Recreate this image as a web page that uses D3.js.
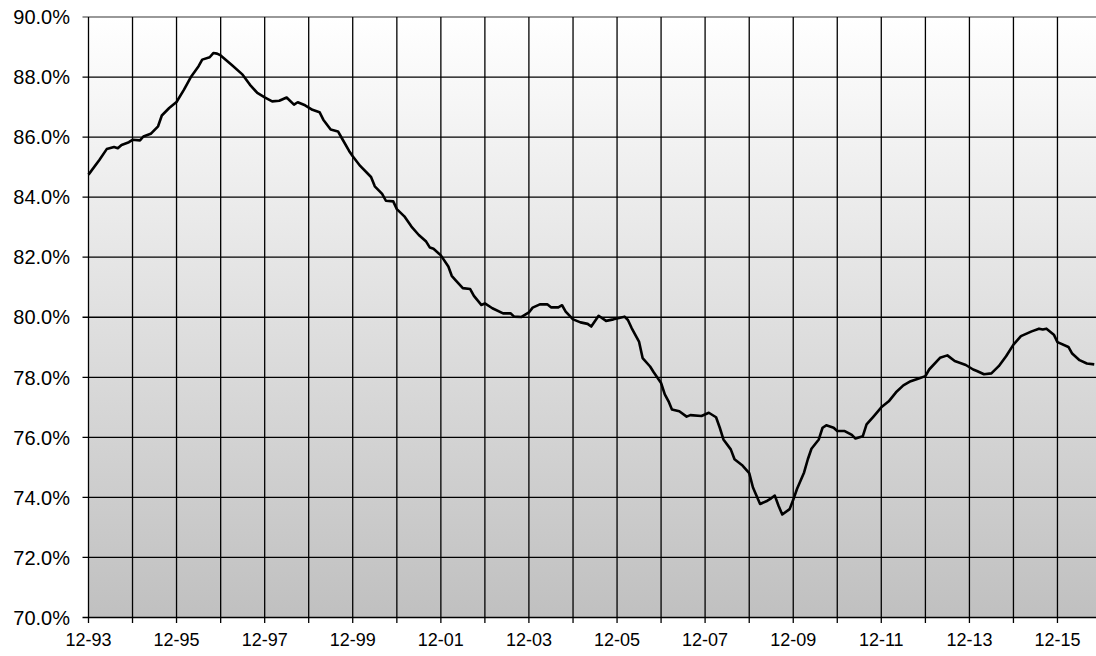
<!DOCTYPE html>
<html>
<head>
<meta charset="utf-8">
<script src="https://cdnjs.cloudflare.com/ajax/libs/d3/7.8.5/d3.min.js"></script>
<style>
	body { margin: 0; background: #fff; }
	text { font-family: Arial, "Liberation Sans", sans-serif; fill: #000; }
</style>
</head>
<body>
<div id="ratio-chart"></div>
<script>
var months = ["1993-12","1994-03","1994-05","1994-07","1994-08","1994-09","1994-11","1994-12",
	"1995-02","1995-03","1995-05","1995-07","1995-08","1995-10","1995-12",
	"1996-02","1996-04","1996-06","1996-07","1996-09","1996-10","1996-11","1996-12",
	"1997-03","1997-06","1997-08","1997-10","1997-12",
	"1998-02","1998-04","1998-06","1998-08","1998-09","1998-11",
	"1999-01","1999-03","1999-04","1999-06","1999-08","1999-09","1999-11","1999-12",
	"2000-02","2000-05","2000-06","2000-08","2000-09","2000-11","2000-12",
	"2001-02","2001-04","2001-06","2001-08","2001-09","2001-10","2001-12",
	"2002-02","2002-03","2002-04","2002-06","2002-08","2002-09","2002-11","2002-12",
	"2003-02","2003-05","2003-07","2003-08","2003-10","2003-12",
	"2004-01","2004-03","2004-05","2004-06","2004-08","2004-09","2004-10","2004-12",
	"2005-02","2005-04","2005-05","2005-07","2005-09","2005-11",
	"2006-02","2006-03","2006-04","2006-06","2006-07","2006-09","2006-10","2006-12",
	"2007-01","2007-02","2007-03","2007-05","2007-07","2007-08","2007-11",
	"2008-01","2008-03","2008-04","2008-05","2008-07","2008-08","2008-10","2008-12",
	"2009-01","2009-03","2009-05","2009-06","2009-07","2009-08","2009-09","2009-11","2009-12",
	"2010-01","2010-03","2010-04","2010-05","2010-07","2010-08","2010-09","2010-11","2010-12",
	"2011-02","2011-04","2011-05","2011-07","2011-08","2011-10","2011-12",
	"2012-02","2012-04","2012-06","2012-08","2012-10","2012-12",
	"2013-01","2013-04","2013-06","2013-08","2013-11",
	"2014-01","2014-02","2014-04","2014-06","2014-08","2014-10","2014-12",
	"2015-02","2015-05","2015-07","2015-08","2015-09","2015-11","2015-12",
	"2016-03","2016-04","2016-06","2016-08","2016-10"];

var ratio = [84.75,85.24,85.60,85.67,85.63,85.74,85.83,85.91,
	85.89,86.02,86.11,86.36,86.72,86.97,87.17,
	87.58,88.02,88.36,88.58,88.66,88.80,88.78,88.72,
	88.41,88.08,87.74,87.47,87.32,
	87.19,87.21,87.32,87.08,87.16,87.06,
	86.91,86.83,86.58,86.25,86.19,85.97,85.54,85.36,
	85.04,84.67,84.36,84.11,83.88,83.86,83.60,
	83.36,83.02,82.74,82.52,82.32,82.28,82.06,
	81.69,81.38,81.24,80.97,80.94,80.71,80.41,80.46,
	80.30,80.13,80.13,80.02,80.01,80.16,
	80.32,80.43,80.43,80.33,80.33,80.40,80.19,79.93,
	79.83,79.78,79.69,80.05,79.88,79.93,
	80.02,79.91,79.64,79.19,78.64,78.36,78.17,77.81,
	77.43,77.20,76.93,76.87,76.69,76.74,76.71,
	76.82,76.67,76.32,75.93,75.60,75.27,75.08,74.81,
	74.33,73.78,73.89,73.97,74.06,73.72,73.43,73.61,73.92,
	74.28,74.83,75.27,75.62,75.93,76.32,76.40,76.32,76.21,
	76.21,76.08,75.96,76.04,76.43,76.71,77.00,
	77.20,77.50,77.73,77.87,77.95,78.04,
	78.26,78.65,78.73,78.54,78.41,
	78.26,78.21,78.10,78.13,78.37,78.70,79.09,
	79.37,79.53,79.62,79.59,79.62,79.42,79.17,
	79.01,78.79,78.57,78.46,78.43];

var yTicks = [70, 72, 74, 76, 78, 80, 82, 84, 86, 88, 90];
var gridYears = d3.range(1993, 2016);   // a vertical line every December
var labelYears = d3.range(1993, 2016, 2);

var w = 1096, h = 656;
var padLeft = 88.5, padTop = 17, padBottom = 617.5;

var parse = d3.timeParse("%Y-%m");
var dataset = months.map(function(m, i) { return {date: parse(m), value: ratio[i]}; });

var x = d3.scaleTime()
	.domain([new Date(1993, 11, 1), new Date(2016, 10, 1)])
	.range([padLeft, padLeft + 275 * 44.05 / 12]);

var y = d3.scaleLinear()
	.domain([70, 90])
	.range([padBottom, padTop]);

var svg = d3.select("#ratio-chart").append("svg")
	.attr("width", w)
	.attr("height", h);

var grad = svg.append("defs").append("linearGradient")
	.attr("id", "bg")
	.attr("x1", 0).attr("y1", 0).attr("x2", 0).attr("y2", 1);
grad.append("stop").attr("offset", "0%").attr("stop-color", "#ffffff");
grad.append("stop").attr("offset", "100%").attr("stop-color", "#c0c0c0");

svg.append("rect")
	.attr("x", padLeft)
	.attr("y", padTop)
	.attr("width", w - padLeft)
	.attr("height", padBottom - padTop)
	.style("fill", "url(#bg)");

// horizontal grid
svg.append("g").selectAll("line")
	.data(yTicks)
	.enter()
	.append("line")
	.attr("x1", padLeft - 6)
	.attr("x2", w)
	.attr("y1", function(d) { return y(d); })
	.attr("y2", function(d) { return y(d); })
	.attr("stroke", function(d) { return d == 90 ? "#777" : "#000"; })
	.attr("stroke-width", 1.3);

// vertical grid
svg.append("g").selectAll("line")
	.data(gridYears)
	.enter()
	.append("line")
	.attr("x1", function(d) { return x(new Date(d, 11, 1)); })
	.attr("x2", function(d) { return x(new Date(d, 11, 1)); })
	.attr("y1", padTop)
	.attr("y2", padBottom + 5.5)
	.attr("stroke", "#000")
	.attr("stroke-width", 1.3);

var fmt = d3.timeFormat("%m-%y");

svg.append("g").selectAll("text")
	.data(labelYears)
	.enter()
	.append("text")
	.attr("x", function(d) { return x(new Date(d, 11, 1)); })
	.attr("y", 646)
	.style("text-anchor", "middle")
	.style("font-size", "18px")
	.text(function(d) { return fmt(new Date(d, 11, 1)); });

svg.append("g").selectAll("text")
	.data(yTicks)
	.enter()
	.append("text")
	.attr("x", 70)
	.attr("y", function(d) { return y(d); })
	.attr("dy", "0.36em")
	.style("text-anchor", "end")
	.style("font-size", "20px")
	.text(function(d) { return d.toFixed(1) + "%"; });

var line = d3.line()
	.x(function(d) { return x(d.date); })
	.y(function(d) { return y(d.value); });

svg.append("path")
	.datum(dataset)
	.attr("d", line)
	.attr("fill", "none")
	.attr("stroke", "#000")
	.attr("stroke-width", 2.6)
	.attr("stroke-linejoin", "round");
</script>
</body>
</html>
